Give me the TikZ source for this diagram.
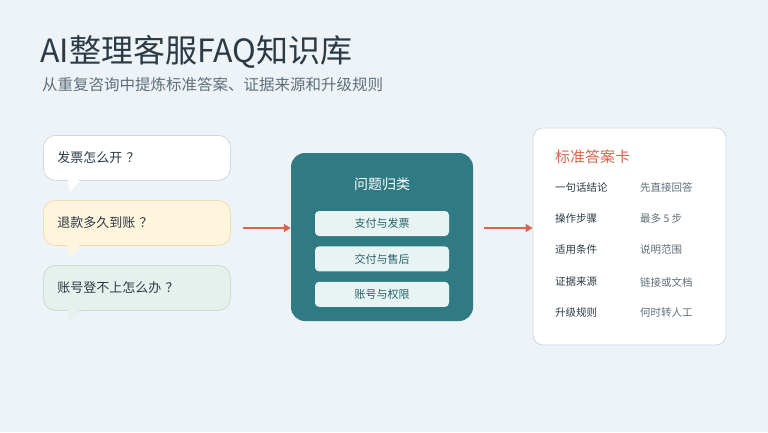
\documentclass[tikz,border=0pt]{standalone}
\usepackage{fontspec}
\setmainfont{Noto Sans CJK SC}
\usetikzlibrary{positioning,arrows.meta}
\definecolor{bgc}{HTML}{EEF3F7}
\definecolor{ink}{HTML}{2B3A45}
\definecolor{subc}{HTML}{5F6F7A}
\definecolor{teal}{HTML}{2F7A83}
\definecolor{pill}{HTML}{E8F4F3}
\definecolor{accent}{HTML}{D9654E}
\definecolor{warm}{HTML}{FFF4DC}
\definecolor{warmb}{HTML}{EEDDB3}
\definecolor{mint}{HTML}{E6F0EC}
\definecolor{mintb}{HTML}{C9DDD5}
\definecolor{lineb}{HTML}{CFD8DF}
\tikzset{
  bubble/.style={draw=#1, line width=0.8pt, rounded corners=12pt, minimum width=187pt,
    minimum height=45pt, anchor=north west, text=ink, font=\fontsize{13}{15}\selectfont,
    align=left, text width=159pt, inner xsep=14pt},
  tag/.style={fill=pill, rounded corners=4pt, minimum width=134pt, minimum height=25pt,
    text=teal!80!black, font=\fontsize{11}{12}\selectfont},
  flow/.style={-{Triangle[length=7pt,width=8pt]}, accent, line width=2.6pt},
  key/.style={anchor=west, text=ink, font=\fontsize{10.5}{12}\selectfont, inner sep=0pt},
  val/.style={anchor=west, text=subc, font=\fontsize{10.5}{12}\selectfont, inner sep=0pt}
}
\begin{document}
\begin{tikzpicture}[x=1pt,y=-1pt]
\fill[bgc] (0,0) rectangle (768,432);
\useasboundingbox (0,0) rectangle (768,432);
% title
\node[anchor=west, text=ink, font=\fontsize{32}{35}\selectfont, inner sep=0pt] (title) at (40,52) {AI整理客服FAQ知识库};
\node[anchor=west, text=subc, font=\fontsize{15.5}{18}\selectfont, inner sep=0pt] (sub) at (42,85) {从重复咨询中提炼标准答案、证据来源和升级规则};
% questions
\foreach \y/\f/\b/\t/\n in {135/white/lineb/发票怎么开 ？/q1, 200/warm/warmb/退款多久到账 ？/q2, 265/mint/mintb/账号登不上怎么办 ？/q3}{
  \fill[\f] (67,\y+44) -- (70,\y+56) -- (82,\y+44) -- cycle;
  \node[bubble=\b, fill=\f] (\n) at (43,\y) {\t};
  \fill[\f] (68,\y+43) -- (70,\y+55) -- (81,\y+43) -- cycle;
}
% center
\node[fill=teal, rounded corners=14pt, minimum width=182pt, minimum height=168pt] (grp) at (382,237) {};
\node[text=white, font=\fontsize{14}{16}\selectfont] (gtitle) at (382,184) {问题归类};
\node[tag] (t1) at (382,223.5) {支付与发票};
\node[tag, below=10pt of t1] (t2) {交付与售后};
\node[tag, below=10pt of t2] (t3) {账号与权限};
\coordinate (a1) at (243,228);
\draw[flow] (a1) -- (grp.west |- a1);
% card
\node[draw=lineb, fill=white, line width=0.8pt, rounded corners=10pt, minimum width=193pt, minimum height=217pt] (card) at (629.5,236.5) {};
\coordinate (a2) at (484,228);
\draw[flow] (a2) -- (card.west |- a2);
\node[anchor=west, text=accent, font=\fontsize{15}{17}\selectfont, inner sep=0pt] (ctitle) at (555,157) {标准答案卡};
\foreach \y/\k/\v [count=\i] in {188/一句话结论/先直接回答, 219/操作步骤/最多 5 步, 250/适用条件/说明范围, 282/证据来源/链接或文档, 313/升级规则/何时转人工}{
  \node[key] (k\i) at (555,\y) {\k};
  \node[val] (v\i) at (640,\y) {\v};
}
\end{tikzpicture}
\end{document}
